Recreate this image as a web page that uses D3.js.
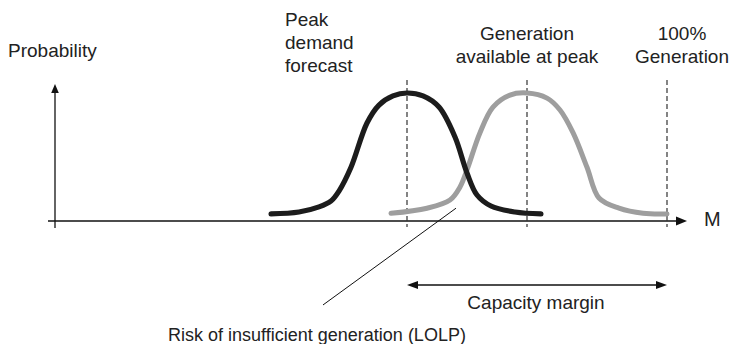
<!DOCTYPE html>
<html>
<head>
<meta charset="utf-8">
<script src="https://cdn.jsdelivr.net/npm/d3@7"></script>
<style>
  html, body { margin: 0; padding: 0; background: #fff; }
  svg { display: block; }
  text { font-family: "Liberation Sans", Arial, sans-serif; fill: #222; }
</style>
</head>
<body>
<div id="chart"></div>
<script>
// Probability distributions of peak demand and available generation (M = MW)
const demandX = [54, 61, 66, 69, 71, 74, 78, 81, 84.5, 88, 92, 96, 100, 103, 105.5, 109, 115, 121.5];
const demandY = [0.055, 0.07, 0.11, 0.156, 0.234, 0.42, 0.766, 0.906, 0.977, 1.0, 0.977, 0.89, 0.656, 0.375, 0.203, 0.117, 0.07, 0.055];

const genX = [84, 93, 98.75, 101.25, 103, 106.25, 109.5, 113.75, 118, 123, 126.25, 129.5, 133, 136, 141, 147, 153];
const genY = [0.06, 0.10, 0.164, 0.266, 0.40, 0.69, 0.89, 0.984, 1.0, 0.96, 0.867, 0.69, 0.42, 0.18, 0.10, 0.06, 0.055];

// Reference levels on the M axis
const markerNames = ["Peak demand forecast", "Generation available at peak", "100% Generation"];
const markerX = [88, 118, 153];

const W = 733, H = 344;
const svg = d3.select("#chart").append("svg").attr("width", W).attr("height", H);

const x = d3.scaleLinear().domain([0, 160]).range([55, 695]);
const y = d3.scaleLinear().domain([0, 1]).range([221, 93]);

// Axes with arrowheads
const axisG = svg.append("g").attr("stroke", "#111").attr("stroke-width", 1.3);
axisG.append("line")
  .attr("x1", x(-1.75)).attr("x2", x(155.5)).attr("y1", y(0)).attr("y2", y(0));
axisG.append("line")
  .attr("x1", x(0)).attr("x2", x(0)).attr("y1", y(-0.055)).attr("y2", y(1.0));

const tip = (px, py, dir, len, half) => {
  // dir: "right", "left", "up"
  if (dir === "right") return `M${px},${py}L${px - len},${py - half}L${px - len},${py + half}Z`;
  if (dir === "left") return `M${px},${py}L${px + len},${py - half}L${px + len},${py + half}Z`;
  return `M${px},${py}L${px - half},${py + len}L${px + half},${py + len}Z`;
};
svg.append("path").attr("d", tip(x(158), y(0), "right", 11, 4.5)).attr("fill", "#111");
svg.append("path").attr("d", tip(x(0), y(1.07), "up", 9, 3.8)).attr("fill", "#111");

// Dashed reference lines
svg.append("g").selectAll("line").data(markerX).join("line")
  .attr("x1", d => x(d)).attr("x2", d => x(d))
  .attr("y1", 80).attr("y2", 227)
  .attr("stroke", "#333").attr("stroke-width", 1.2)
  .attr("stroke-dasharray", "5,3");

// Distribution curves
const line = d3.line()
  .x(d => x(d[0])).y(d => y(d[1]))
  .curve(d3.curveCatmullRom.alpha(0.5));

svg.append("path")
  .datum(d3.zip(genX, genY))
  .attr("d", line)
  .attr("fill", "none").attr("stroke", "#9e9e9e")
  .attr("stroke-width", 5).attr("stroke-linecap", "round").attr("stroke-linejoin", "round");

svg.append("path")
  .datum(d3.zip(demandX, demandY))
  .attr("d", line)
  .attr("fill", "none").attr("stroke", "#1c1c1c")
  .attr("stroke-width", 5.2).attr("stroke-linecap", "round").attr("stroke-linejoin", "round");

// LOLP pointer
svg.append("line")
  .attr("x1", x(100.25)).attr("y1", y(0.10))
  .attr("x2", x(67)).attr("y2", y(-0.656))
  .attr("stroke", "#111").attr("stroke-width", 1);

// Capacity margin double arrow
const cmY = 285;
svg.append("line")
  .attr("x1", x(markerX[0]) + 6).attr("x2", x(markerX[2]) - 6)
  .attr("y1", cmY).attr("y2", cmY)
  .attr("stroke", "#111").attr("stroke-width", 1.5);
svg.append("path").attr("d", tip(x(markerX[0]), cmY, "left", 11, 4)).attr("fill", "#111");
svg.append("path").attr("d", tip(x(markerX[2]), cmY, "right", 11, 4)).attr("fill", "#111");

// Labels
const fs = 19;
svg.append("text").attr("x", 8).attr("y", 57).attr("font-size", fs).text("Probability");
svg.append("text").attr("x", 704).attr("y", 226).attr("font-size", 20).text("M");

const peak = svg.append("text").attr("font-size", fs);
["Peak", "demand", "forecast"].forEach((t, i) =>
  peak.append("tspan").attr("x", 285).attr("y", 26 + i * 23).text(t));

const gen = svg.append("text").attr("font-size", fs).attr("text-anchor", "middle");
["Generation", "available at peak"].forEach((t, i) =>
  gen.append("tspan").attr("x", x(markerX[1])).attr("y", 40 + i * 23).text(t));

const full = svg.append("text").attr("font-size", fs).attr("text-anchor", "middle");
["100%", "Generation"].forEach((t, i) =>
  full.append("tspan").attr("x", 682).attr("y", 40 + i * 23).text(t));

svg.append("text").attr("x", 536).attr("y", 309).attr("font-size", fs)
  .attr("text-anchor", "middle").text("Capacity margin");

svg.append("text").attr("x", 317).attr("y", 341).attr("font-size", 18)
  .attr("text-anchor", "middle").text("Risk of insufficient generation (LOLP)");
</script>
</body>
</html>
